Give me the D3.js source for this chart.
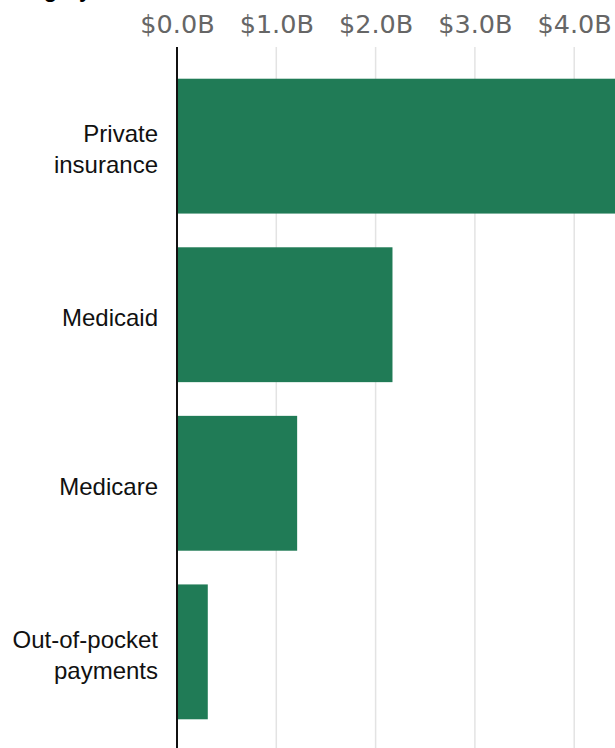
<!DOCTYPE html>
<html>
<head>
<meta charset="utf-8">
<script src="https://cdn.jsdelivr.net/npm/d3@7"></script>
<style>
  html, body { margin: 0; padding: 0; background: #fff; overflow: hidden; }
  svg { display: block; }
</style>
</head>
<body>
<svg id="chart"></svg>
<script>
const payers = ['Private insurance', 'Medicaid', 'Medicare', 'Out-of-pocket payments'];
const labelLines = [['Private', 'insurance'], ['Medicaid'], ['Medicare'], ['Out-of-pocket', 'payments']];
const spending = [4.6, 2.17, 1.21, 0.31];
const tickValues = [0, 1, 2, 3, 4];

const width = 615;
const height = 748;
const margin = { top: 45, left: 177 };
const barColor = '#207b56';

const render = () => {
    const svg = d3.select('#chart').attr('width', width).attr('height', height);

    const x = d3.scaleLinear().domain([0, 1]).range([margin.left, margin.left + 99.3]);
    const y = d3
        .scaleBand()
        .domain(payers)
        .range([margin.top, 753])
        .padding(0.2);

    // title, scrolled off the top: only descenders show
    svg.append('text')
        .attr('x', -4)
        .attr('y', -2.8)
        .style('font-family', 'Liberation Sans, Arial, sans-serif')
        .style('font-weight', 'bold')
        .style('font-size', '22px')
        .text('Category');

    // gridlines
    svg.append('g')
        .selectAll('line')
        .data(tickValues.slice(1))
        .join('line')
        .attr('x1', d => x(d))
        .attr('x2', d => x(d))
        .attr('y1', 47)
        .attr('y2', height)
        .attr('stroke', '#e3e3e3')
        .attr('stroke-width', 1.5);

    // top axis
    const axis = svg.append('g')
        .attr('transform', 'translate(0, 32.7)')
        .call(d3.axisTop(x).tickValues(tickValues).tickFormat(d => `$${d.toFixed(1)}B`).tickSize(0));
    axis.select('.domain').remove();
    axis.selectAll('text')
        .attr('y', 0)
        .attr('dy', 0)
        .style('font-family', 'DejaVu Sans, sans-serif')
        .style('font-size', '25.5px')
        .style('fill', '#666');

    // bars
    svg.append('g')
        .selectAll('rect')
        .data(payers)
        .join('rect')
        .attr('x', x(0))
        .attr('y', d => y(d))
        .attr('width', (d, i) => x(spending[i]) - x(0))
        .attr('height', y.bandwidth())
        .attr('fill', barColor);

    // category labels
    const lineHeight = 31.5;
    svg.append('g')
        .selectAll('text')
        .data(payers)
        .join('text')
        .attr('text-anchor', 'end')
        .style('font-family', 'Liberation Sans, Arial, sans-serif')
        .style('font-size', '24px')
        .style('fill', '#111')
        .each(function (d, i) {
            const lines = labelLines[i];
            const mid = y(d) + y.bandwidth() / 2;
            const first = mid - ((lines.length - 1) * lineHeight) / 2 + 11.5;
            d3.select(this)
                .selectAll('tspan')
                .data(lines)
                .join('tspan')
                .attr('x', 158)
                .attr('y', (l, j) => first + j * lineHeight)
                .text(l => l);
        });

    // baseline axis line
    svg.append('line')
        .attr('x1', x(0))
        .attr('x2', x(0))
        .attr('y1', 47)
        .attr('y2', height)
        .attr('stroke', '#111')
        .attr('stroke-width', 2);
};

render();
</script>
</body>
</html>
